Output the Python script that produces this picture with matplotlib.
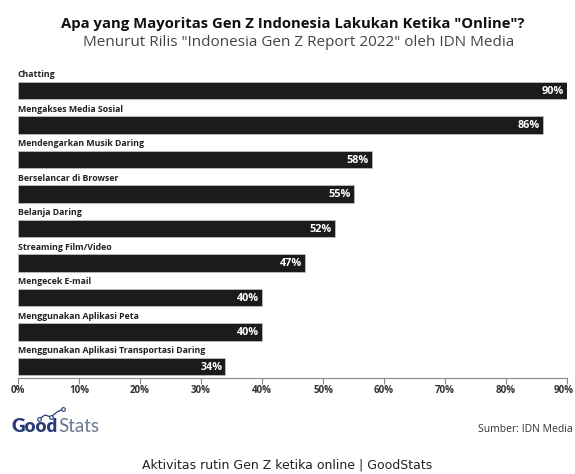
import matplotlib.pyplot as plt
import matplotlib.transforms as mtransforms
from matplotlib.ticker import FuncFormatter

# activities and share of respondents (%)
categories = [
    "Chatting",
    "Mengakses Media Sosial",
    "Mendengarkan Musik Daring",
    "Berselancar di Browser",
    "Belanja Daring",
    "Streaming Film/Video",
    "Mengecek E-mail",
    "Menggunakan Aplikasi Peta",
    "Menggunakan Aplikasi Transportasi Daring",
]
values = [90, 86, 58, 55, 52, 47, 40, 40, 34]
xticks = [0, 10, 20, 30, 40, 50, 60, 70, 80, 90]

plt.rcParams['font.family'] = ['Open Sans', 'DejaVu Sans']
narrow = ['Liberation Sans Narrow', 'Open Sans', 'DejaVu Sans']

W, H = 575, 474
fig = plt.figure(figsize=(W / 100, H / 100), dpi=100)
fig.patch.set_facecolor('white')

# axes in pixel terms: x from 18 to 567, y from 64.6 to 378
ax = fig.add_axes([18 / W, 1 - 378 / H, (567 - 18) / W, (378 - 64.6) / H])

ypos = list(range(len(categories)))
ax.barh(ypos, values, height=0.5, color='#1b1b1b', edgecolor='#bdbdbd', linewidth=0.6)

for y, name, v in zip(ypos, categories, values):
    ax.text(0, y - 0.45, name, ha='left', va='center', fontsize=6.3,
            fontweight='bold', color='#222222', family=narrow)
    ax.text(v - 0.5, y + 0.02, f"{v}%", ha='right', va='center', fontsize=7.8,
            fontweight='bold', color='white', family=narrow)

ax.set_xlim(0, 90)
ax.set_ylim(len(categories) - 1 + 0.333, -0.75)
ax.set_xticks(xticks)
ax.xaxis.set_major_formatter(FuncFormatter(lambda v, p: f"{int(v)}%"))
ax.set_yticks([])
for s in ['top', 'right', 'left']:
    ax.spines[s].set_visible(False)
ax.spines['bottom'].set_color('#888888')
ax.spines['bottom'].set_linewidth(0.8)
ax.tick_params(axis='x', direction='out', length=4, width=0.8, color='#888888',
               labelsize=7, labelcolor='#333333', pad=1)
for lbl in ax.get_xticklabels():
    lbl.set_fontweight('bold')
    lbl.set_family(narrow)
# keep the last tick label inside the canvas
last = ax.get_xticklabels()[-1]
last.set_transform(last.get_transform() +
                   mtransforms.ScaledTranslation(-3 / 100, 0, fig.dpi_scale_trans))

# titles
fig.text(293 / W, 1 - 24 / H, 'Apa yang Mayoritas Gen Z Indonesia Lakukan Ketika "Online"?',
         ha='center', va='center', fontsize=10.75, fontweight='bold', color='#111111')
fig.text(299 / W, 1 - 43 / H, 'Menurut Rilis "Indonesia Gen Z Report 2022" oleh IDN Media',
         ha='center', va='center', fontsize=11, color='#444444')

# GoodStats logo
logo_ax = fig.add_axes([0, 0, 1, 1], facecolor='none')
logo_ax.set_xlim(0, W)
logo_ax.set_ylim(H, 0)
logo_ax.axis('off')
t1 = logo_ax.text(12, 427, 'Good', ha='left', va='center', fontsize=13.5,
                  fontweight='heavy', color='#2a3b78', family=['Lato', 'DejaVu Sans'])
fig.canvas.draw()
bb = t1.get_window_extent()
x_end = bb.x1
logo_ax.text(x_end, 427, 'Stats', ha='left', va='center', fontsize=13.5,
             color='#6a7894', family=['Lato', 'DejaVu Sans'])
logo_ax.plot([39, 45, 51, 57, 63], [419, 415, 417, 412, 409], color='#2a3b78', lw=0.9)
logo_ax.scatter([39, 51, 63], [419, 417, 409], s=7, facecolor='white',
                edgecolor='#2a3b78', linewidth=0.8, zorder=3)

fig.text(1 - 2 / W, 1 - 430 / H, 'Sumber: IDN Media', ha='right', va='center',
         fontsize=7.5, color='#333333')
fig.text(0.5, 1 - 465 / H, 'Aktivitas rutin Gen Z ketika online | GoodStats',
         ha='center', va='center', fontsize=9, color='#222222',
         family=['DejaVu Sans'])

fig.savefig('out.png', dpi=100, facecolor='white')
